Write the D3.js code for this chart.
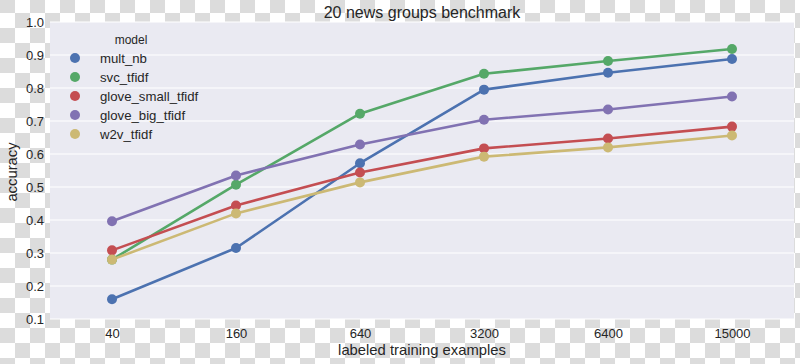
<!DOCTYPE html>
<html><head><meta charset="utf-8">
<script src="https://cdn.jsdelivr.net/npm/d3@7"></script>
<style>body{margin:0;}svg{display:block;font-family:"Liberation Sans",Arial,sans-serif;}</style>
</head><body>
<svg id="chart" width="800" height="364"></svg>
<script>
const categories = ["40","160","640","3200","6400","15000"];
const seriesNames = ["mult_nb","svc_tfidf","glove_small_tfidf","glove_big_tfidf","w2v_tfidf"];
const multNb = [0.16,0.315,0.572,0.795,0.846,0.888];
const svcTfidf = [0.28,0.507,0.722,0.843,0.882,0.918];
const gloveSmall = [0.308,0.444,0.544,0.617,0.647,0.683];
const gloveBig = [0.396,0.535,0.629,0.704,0.735,0.774];
const w2vTfidf = [0.28,0.42,0.514,0.592,0.62,0.656];
const yTicks = [0.1,0.2,0.3,0.4,0.5,0.6,0.7,0.8,0.9,1.0];
const colors = ["#4C72B0","#55A868","#C44E52","#8172B2","#CCB974"];
const title = "20 news groups benchmark";
const xLabel = "labeled training examples";
const yLabel = "accuracy";
const legendTitle = "model";

const seriesValues = [multNb, svcTfidf, gloveSmall, gloveBig, w2vTfidf];
const series = seriesNames.map((n,i)=>({name:n, color:colors[i], values:seriesValues[i]}));

const svg = d3.select("#chart");
const W = 800, H = 364;
const m = {left:50, right:6, top:22, bottom:45};

// checkered background
const defs = svg.append("defs");
const pat = defs.append("pattern").attr("id","chk").attr("patternUnits","userSpaceOnUse")
  .attr("width",30).attr("height",30).attr("x",0).attr("y",-2);
pat.append("rect").attr("width",30).attr("height",30).attr("fill","#ffffff");
pat.append("rect").attr("width",15).attr("height",15).attr("fill","#dcdcdc");
pat.append("rect").attr("x",15).attr("y",15).attr("width",15).attr("height",15).attr("fill","#dcdcdc");
svg.append("rect").attr("width",W).attr("height",H).attr("fill","url(#chk)");

const x = d3.scalePoint().domain(categories).range([m.left, W-m.right]).padding(0.5);
const y = d3.scaleLinear().domain([0.1,1.0]).range([H-m.bottom, m.top]);

svg.append("rect").attr("x",m.left).attr("y",m.top)
  .attr("width",W-m.right-m.left).attr("height",H-m.bottom-m.top).attr("fill","#EAEAF2");

// grid
svg.append("g").selectAll("line").data(yTicks).join("line")
  .attr("x1",m.left).attr("x2",W-m.right)
  .attr("y1",d=>y(d)).attr("y2",d=>y(d))
  .attr("stroke","#ffffff").attr("stroke-width",1.2);

// y axis labels
const yAxis = d3.axisLeft(y).tickValues(yTicks).tickFormat(d3.format(".1f")).tickSize(0).tickPadding(6);
const gy = svg.append("g").attr("transform",`translate(${m.left},0)`).call(yAxis);
gy.select(".domain").remove();
gy.selectAll("text").attr("font-size",13).attr("fill","#262626").attr("font-family","Liberation Sans, Arial, sans-serif");

const xAxis = d3.axisBottom(x).tickSize(0).tickPadding(10);
const gx = svg.append("g").attr("transform",`translate(0,${H-m.bottom})`).call(xAxis);
gx.select(".domain").remove();
gx.selectAll("text").attr("font-size",13).attr("fill","#262626").attr("font-family","Liberation Sans, Arial, sans-serif");

// lines
const line = d3.line().x((d,i)=>x(categories[i])).y(d=>y(d));
const gs = svg.append("g").selectAll("g").data(series).join("g");
gs.append("path").attr("d",d=>line(d.values)).attr("fill","none")
  .attr("stroke",d=>d.color).attr("stroke-width",2.6).attr("stroke-linejoin","round");
gs.selectAll("circle").data(d=>d.values.map((v,i)=>({v,i,c:d.color}))).join("circle")
  .attr("cx",d=>x(categories[d.i])).attr("cy",d=>y(d.v)).attr("r",5).attr("fill",d=>d.c);

// title and labels
svg.append("text").attr("x",(m.left+W-m.right)/2).attr("y",18).attr("text-anchor","middle")
  .attr("font-size",16).attr("fill","#262626").text(title);
svg.append("text").attr("x",(m.left+W-m.right)/2).attr("y",355).attr("text-anchor","middle")
  .attr("font-size",14.8).attr("fill","#262626").text(xLabel);
svg.append("text").attr("transform","translate(17,172) rotate(-90)").attr("text-anchor","middle")
  .attr("font-size",14.8).attr("fill","#262626").text(yLabel);

// legend
const lg = svg.append("g");
lg.append("text").attr("x",131).attr("y",44).attr("text-anchor","middle")
  .attr("font-size",12).attr("fill","#262626").text(legendTitle);
const items = lg.selectAll("g.it").data(series).join("g").attr("class","it")
  .attr("transform",(d,i)=>`translate(0,${58+i*19})`);
items.append("circle").attr("cx",75).attr("cy",0).attr("r",5).attr("fill",d=>d.color);
items.append("text").attr("x",100).attr("y",5).attr("font-size",13.2).attr("fill","#262626").text(d=>d.name);
</script>
</body></html>
